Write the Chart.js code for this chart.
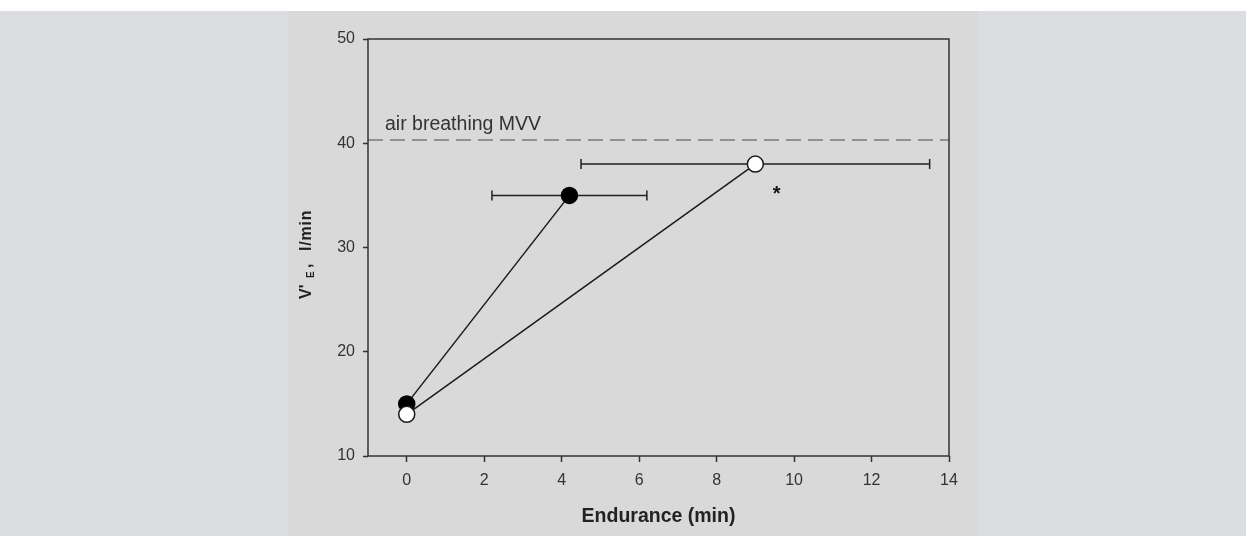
<!DOCTYPE html>
<html><head><meta charset="utf-8">
<script src="https://cdn.jsdelivr.net/npm/chart.js@4"></script>
<style>
html,body{margin:0;padding:0;background:#dcdde0;}
#wrap{position:absolute;left:0;top:0;width:1246px;height:536px;}
#top{position:absolute;left:0;top:0;width:1246px;height:11px;background:#fff;}
#panel{position:absolute;left:288px;top:11px;width:690px;height:525px;background:#d9d9d9;}
canvas{position:absolute;left:0;top:0;}
</style></head>
<body>
<div id="wrap"><div id="top"></div><div id="panel"></div><canvas id="c" width="1246" height="536"></canvas></div>
<script>
const xTicks = [0, 2, 4, 6, 8, 10, 12, 14];
const yTicks = [10, 20, 30, 40, 50];
const filledX = [0, 4.2];
const filledY = [15, 35];
const filledErrLow = [null, 2.2];
const filledErrHigh = [null, 6.2];
const openX = [0, 9];
const openY = [14, 38];
const openErrLow = [null, 4.5];
const openErrHigh = [null, 13.5];
const mvvLevel = 40.3;
const mvvLabel = 'air breathing MVV';
const starPos = {x: 9.55, y: 35.4};
const xTitle = 'Endurance (min)';

const openData = openX.map((x, i) => ({x, y: openY[i], lo: openErrLow[i], hi: openErrHigh[i]}));
const filledData = filledX.map((x, i) => ({x, y: filledY[i], lo: filledErrLow[i], hi: filledErrHigh[i]}));
const FAM = '"Liberation Sans", Arial, sans-serif';

const decor = {
  id: 'decor',
  beforeDatasetsDraw(chart) {
    const {ctx, chartArea: a, scales: {x, y}} = chart;
    ctx.save();
    ctx.strokeStyle = '#7a7a7a';
    ctx.lineWidth = 1.5;
    ctx.setLineDash([15, 7]);
    const ym = y.getPixelForValue(mvvLevel);
    ctx.beginPath(); ctx.moveTo(a.left, ym); ctx.lineTo(a.right, ym); ctx.stroke();
    ctx.setLineDash([]);
    ctx.fillStyle = '#333';
    ctx.font = '19.5px ' + FAM;
    ctx.textBaseline = 'alphabetic';
    ctx.fillText(mvvLabel, a.left + 17, ym - 10);
    ctx.strokeStyle = '#222';
    ctx.lineWidth = 1.5;
    [openData, filledData].forEach(ds => ds.forEach(p => {
      if (p.lo == null) return;
      const py = y.getPixelForValue(p.y);
      const x1 = x.getPixelForValue(p.lo), x2 = x.getPixelForValue(p.hi);
      ctx.beginPath();
      ctx.moveTo(x1, py); ctx.lineTo(x2, py);
      ctx.moveTo(x1, py - 5); ctx.lineTo(x1, py + 5);
      ctx.moveTo(x2, py - 5); ctx.lineTo(x2, py + 5);
      ctx.stroke();
    }));
    ctx.restore();
  },
  afterDraw(chart) {
    const {ctx, chartArea: a, scales: {x, y}} = chart;
    ctx.save();
    ctx.strokeStyle = '#333';
    ctx.lineWidth = 1.5;
    ctx.strokeRect(a.left, a.top, a.right - a.left, a.bottom - a.top);
    ctx.fillStyle = '#111';
    ctx.font = 'bold 20px ' + FAM;
    ctx.textAlign = 'center';
    ctx.textBaseline = 'middle';
    ctx.fillText('*', x.getPixelForValue(starPos.x), y.getPixelForValue(starPos.y) + 3);
    ctx.fillStyle = '#222';
    ctx.font = 'bold 19.5px ' + FAM;
    ctx.textBaseline = 'alphabetic';
    ctx.fillText(xTitle, (a.left + a.right) / 2, 522);
    // y title with subscript
    ctx.translate(311, 251);
    ctx.rotate(-Math.PI / 2);
    ctx.textAlign = 'left';
    ctx.font = 'bold 16px ' + FAM;
    ctx.fillText("V'", -48, 0);
    ctx.font = 'bold 10px ' + FAM;
    ctx.fillText('E', -27, 3);
    ctx.font = 'bold 16px ' + FAM;
    ctx.fillText(',', -17, 0);
    ctx.letterSpacing = '0.8px';
    ctx.fillText('l/min', 0, 0);
    ctx.restore();
  }
};

new Chart(document.getElementById('c'), {
  type: 'scatter',
  data: {
    datasets: [
      {data: openData, showLine: true, borderColor: '#1a1a1a', borderWidth: 1.5,
       pointRadius: 8, pointHoverRadius: 8, pointBackgroundColor: '#ffffff', pointBorderColor: '#1a1a1a', pointBorderWidth: 1.5},
      {data: filledData, showLine: true, borderColor: '#1a1a1a', borderWidth: 1.5,
       pointRadius: 8, pointHoverRadius: 8, pointBackgroundColor: '#000000', pointBorderColor: '#000000', pointBorderWidth: 1.5}
    ]
  },
  options: {
    responsive: false, animation: false, events: [],
    layout: {padding: {left: 308, right: 297, top: 39, bottom: 40}},
    plugins: {legend: {display: false}, tooltip: {enabled: false}},
    scales: {
      x: {
        type: 'linear', min: -1, max: 14,
        afterBuildTicks: s => { s.ticks = xTicks.map(v => ({value: v})); },
        afterFit: s => { s.height = 40; },
        grid: {drawOnChartArea: false, tickLength: 6, tickColor: '#333', tickWidth: 1.5},
        border: {display: false},
        ticks: {color: '#333', font: {size: 16, family: FAM}, padding: 9, maxRotation: 0}
      },
      y: {
        type: 'linear', min: 10, max: 50,
        afterBuildTicks: s => { s.ticks = yTicks.map(v => ({value: v})); },
        afterFit: s => { s.width = 60; },
        grid: {drawOnChartArea: false, tickLength: 5, tickColor: '#333', tickWidth: 1.5},
        border: {display: false},
        ticks: {color: '#333', font: {size: 16, family: FAM}, padding: 8}
      }
    }
  },
  plugins: [decor]
});
</script>
</body></html>
